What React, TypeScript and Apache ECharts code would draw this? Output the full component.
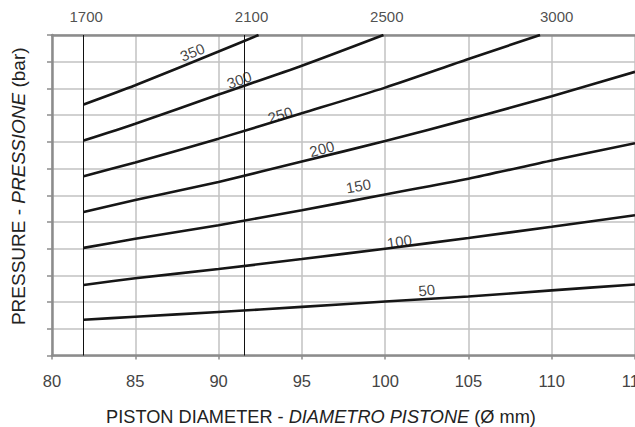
import React, { useEffect, useRef } from "react";
import * as echarts from "echarts";

// Piston diameter (mm) vs pressure curves, y in grid units (no y labels in source)
const curve50 = [[81.9, 1.34], [85, 1.45], [90, 1.63], [95, 1.82], [100, 2.02], [105, 2.21], [110, 2.44], [115, 2.66]];
const curve100 = [[81.9, 2.64], [85, 2.89], [90, 3.24], [95, 3.61], [100, 4.0], [105, 4.4], [110, 4.82], [115, 5.25]];
const curve150 = [[81.9, 4.03], [85, 4.37], [90, 4.88], [95, 5.44], [100, 6.03], [105, 6.62], [110, 7.3], [115, 7.95]];
const curve200 = [[81.9, 5.37], [85, 5.82], [90, 6.5], [95, 7.26], [100, 8.03], [105, 8.85], [110, 9.71], [115, 10.62]];
const curve250 = [[81.9, 6.71], [85, 7.23], [90, 8.12], [95, 9.07], [100, 10.03], [105, 11.1], [109.3, 12]];
const curve300 = [[81.9, 8.05], [85, 8.68], [90, 9.77], [95, 10.85], [99.9, 12]];
const curve350 = [[81.9, 9.4], [85, 10.12], [90, 11.38], [92.4, 12]];

const curveNames = ["50", "100", "150", "200", "250", "300", "350"];
const curves = [curve50, curve100, curve150, curve200, curve250, curve300, curve350];

// curve label anchors [x, y, rotation]
const curveLabels = [
  [102.5, 2.45, 6],
  [100.85, 4.27, 8],
  [98.4, 6.35, 10],
  [96.2, 7.74, 14],
  [93.7, 9.01, 17],
  [91.24, 10.32, 20],
  [88.42, 11.36, 22],
];

// top scale
const topLines = [81.9, 91.57];
const topTickLabels = ["1700", "2100", "2500", "3000"];
const topTickPositions = [82.05, 91.98, 100.1, 110.3];

const FONT = "'Liberation Sans', Arial, Helvetica, sans-serif";
const AXIS_GRAY = "#8c8c8c";
const GRID_GRAY = "#c2c2c2";

export default function App() {
  const ref = useRef<HTMLDivElement>(null);
  useEffect(() => {
    if (!ref.current) return;
    const chart = echarts.init(ref.current, null, { renderer: "svg" });
    const lineSeries = curves.map((c, i) => ({
      type: "line",
      name: curveNames[i],
      data: c,
      smooth: 0.25,
      symbol: "none",
      lineStyle: { color: "#161616", width: 2.6 },
      z: 5,
    }));
    const option = {
      animation: false,
      backgroundColor: "#ffffff",
      textStyle: { fontFamily: FONT },
      grid: {
        left: 52,
        right: 0,
        top: 35,
        bottom: 71.5,
        containLabel: false,
        outerBoundsMode: "none",
      },
      xAxis: [
        {
          type: "value",
          min: 80,
          max: 115,
          interval: 5,
          name: "{a|PISTON DIAMETER - }{b|DIAMETRO PISTONE}{a| (Ø mm)}",
          nameLocation: "middle",
          nameGap: 52,
          nameTextStyle: {
            padding: [0, 45, 0, 0],
            rich: {
              a: { fontSize: 18.2, color: "#222", fontFamily: FONT },
              b: { fontSize: 18.2, color: "#222", fontFamily: FONT, fontStyle: "italic" },
            },
          },
          axisLine: { show: true, lineStyle: { color: AXIS_GRAY, width: 2.5 } },
          axisTick: { show: true, length: 4, lineStyle: { color: AXIS_GRAY, width: 1.5 } },
          axisLabel: { fontSize: 16.5, color: "#444", margin: 17, fontFamily: FONT },
          splitLine: { show: true, lineStyle: { color: GRID_GRAY, width: 1.5 } },
        },
        {
          type: "value",
          position: "top",
          min: 80,
          max: 115,
          interval: 5,
          axisLine: { show: true, onZero: false, lineStyle: { color: AXIS_GRAY, width: 2.5 } },
          axisTick: { show: false },
          axisLabel: { show: false },
          splitLine: { show: false },
        },
      ],
      yAxis: {
        type: "value",
        min: 0,
        max: 12,
        interval: 1,
        name: "{a|PRESSURE - }{b|PRESSIONE}{a| (bar)}",
        nameLocation: "middle",
        nameGap: 24,
        nameTextStyle: {
          padding: [0, 0, 0, 18],
          rich: {
            a: { fontSize: 19, color: "#222", fontFamily: FONT },
            b: { fontSize: 19, color: "#222", fontFamily: FONT, fontStyle: "italic" },
          },
        },
        axisLine: { show: true, lineStyle: { color: AXIS_GRAY, width: 2.5 } },
        axisTick: { show: true, length: 5, lineStyle: { color: AXIS_GRAY, width: 1.5 } },
        axisLabel: { show: false },
        splitLine: { show: true, lineStyle: { color: GRID_GRAY, width: 1.5 } },
      },
      series: [
        ...lineSeries,
        {
          type: "line",
          data: [],
          symbol: "none",
          markLine: {
            silent: true,
            symbol: "none",
            animation: false,
            label: { show: false },
            data: topLines.map((x) => ({
              xAxis: x,
              lineStyle: { color: "#111", width: 1, type: "solid" },
            })),
          },
        },
        {
          type: "scatter",
          symbolSize: 0,
          silent: true,
          clip: false,
          data: topTickPositions.map((x, i) => ({
            value: [x, 12],
            label: {
              show: true,
              position: "top",
              distance: 11,
              formatter: topTickLabels[i],
              fontSize: 15,
              color: "#222",
              fontFamily: FONT,
            },
          })),
        },
        {
          type: "scatter",
          symbolSize: 0,
          silent: true,
          z: 6,
          data: curveLabels.map((l, i) => ({
            value: [l[0], l[1]],
            label: {
              show: true,
              position: "inside",
              formatter: curveNames[i],
              rotate: l[2],
              fontSize: 15,
              color: "#111",
              fontFamily: FONT,
            },
          })),
        },
      ],
    };
    chart.setOption(option as any);
    return () => chart.dispose();
  }, []);
  return (
    <div
      ref={ref}
      style={{ position: "fixed", left: 0, top: 0, width: 635, height: 427, background: "#fff" }}
    />
  );
}
